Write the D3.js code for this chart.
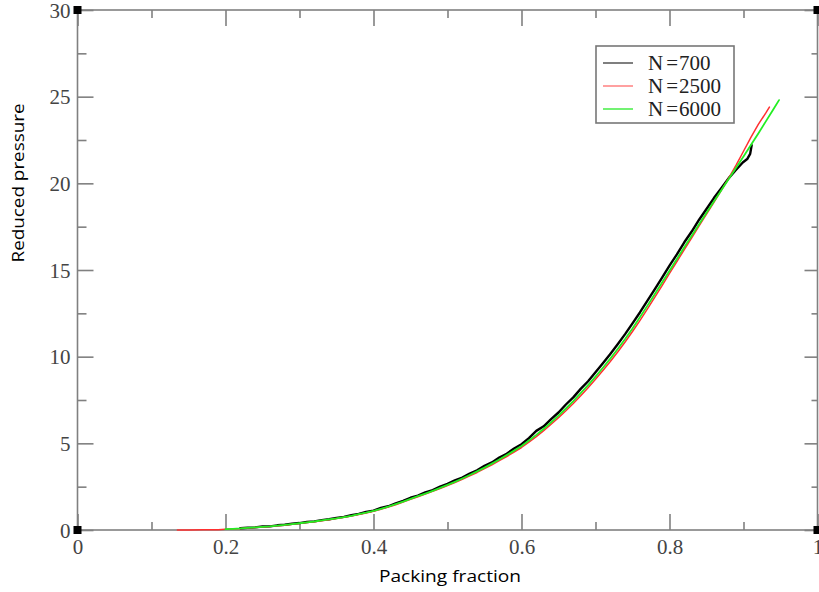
<!DOCTYPE html>
<html>
<head>
<meta charset="utf-8">
<script src="https://cdn.jsdelivr.net/npm/d3@7"></script>
<style>
  html, body { margin: 0; padding: 0; background: #fff; }
  svg { display: block; }
</style>
</head>
<body>
<svg id="chart" width="819" height="592"></svg>
<script>
// ---- data ----
const seriesNames = ["N = 700", "N = 2500", "N = 6000"];
const seriesLabelsNum = ["700", "2500", "6000"];

const phi700 = [0.22,0.23,0.24,0.25,0.26,0.27,0.28,0.29,0.30,0.31,0.32,0.33,0.34,0.35,0.36,0.37,0.38,0.39,0.40,0.41,0.42,0.43,0.44,0.45,0.46,0.47,0.48,0.49,0.50,0.51,0.52,0.53,0.54,0.55,0.56,0.57,0.58,0.59,0.60,0.61,0.62,0.63,0.64,0.65,0.66,0.67,0.68,0.69,0.70,0.71,0.72,0.73,0.74,0.75,0.76,0.77,0.78,0.79,0.80,0.81,0.82,0.83,0.84,0.85,0.86,0.87,0.88,0.89,0.899,0.905,0.909,0.911];
const p700 = [0.10,0.13,0.15,0.20,0.21,0.27,0.30,0.36,0.40,0.46,0.50,0.57,0.62,0.70,0.76,0.85,0.93,1.04,1.12,1.27,1.37,1.54,1.68,1.86,1.98,2.17,2.30,2.50,2.66,2.86,3.02,3.26,3.44,3.70,3.90,4.18,4.40,4.70,4.95,5.30,5.72,5.98,6.40,6.78,7.24,7.65,8.14,8.58,9.10,9.62,10.16,10.72,11.30,11.92,12.55,13.22,13.88,14.56,15.25,15.90,16.60,17.22,17.90,18.52,19.15,19.72,20.30,20.78,21.20,21.40,21.70,22.20];

const phi2500 = [0.135,0.15,0.17,0.19,0.20,0.21,0.22,0.23,0.24,0.25,0.26,0.27,0.28,0.29,0.30,0.31,0.32,0.33,0.34,0.35,0.36,0.37,0.38,0.39,0.40,0.41,0.42,0.43,0.44,0.45,0.46,0.47,0.48,0.49,0.50,0.51,0.52,0.53,0.54,0.55,0.56,0.57,0.58,0.59,0.60,0.61,0.62,0.63,0.64,0.65,0.66,0.67,0.68,0.69,0.70,0.71,0.72,0.73,0.74,0.75,0.76,0.77,0.78,0.79,0.80,0.81,0.82,0.83,0.84,0.85,0.86,0.87,0.88,0.89,0.90,0.91,0.92,0.93,0.935];
const p2500 = [0.00,0.00,0.01,0.02,0.04,0.06,0.08,0.11,0.14,0.17,0.20,0.24,0.28,0.33,0.37,0.43,0.48,0.54,0.59,0.66,0.73,0.80,0.89,0.98,1.08,1.20,1.33,1.46,1.61,1.77,1.92,2.07,2.23,2.39,2.56,2.74,2.92,3.12,3.32,3.54,3.76,4.00,4.24,4.50,4.76,5.07,5.39,5.73,6.10,6.48,6.88,7.30,7.74,8.21,8.70,9.20,9.72,10.27,10.85,11.45,12.08,12.74,13.42,14.10,14.80,15.49,16.18,16.86,17.54,18.22,18.90,19.60,20.30,21.05,21.85,22.65,23.40,24.05,24.40];

const phi6000 = [0.20,0.21,0.22,0.23,0.24,0.25,0.26,0.27,0.28,0.29,0.30,0.31,0.32,0.33,0.34,0.35,0.36,0.37,0.38,0.39,0.40,0.41,0.42,0.43,0.44,0.45,0.46,0.47,0.48,0.49,0.50,0.51,0.52,0.53,0.54,0.55,0.56,0.57,0.58,0.59,0.60,0.61,0.62,0.63,0.64,0.65,0.66,0.67,0.68,0.69,0.70,0.71,0.72,0.73,0.74,0.75,0.76,0.77,0.78,0.79,0.80,0.81,0.82,0.83,0.84,0.85,0.86,0.87,0.88,0.89,0.90,0.91,0.92,0.93,0.94,0.948];
const p6000 = [0.05,0.07,0.09,0.12,0.15,0.18,0.21,0.25,0.29,0.34,0.39,0.44,0.49,0.55,0.61,0.67,0.74,0.82,0.91,1.00,1.10,1.22,1.35,1.49,1.64,1.80,1.95,2.10,2.26,2.43,2.60,2.78,2.97,3.17,3.38,3.60,3.83,4.07,4.32,4.58,4.85,5.16,5.49,5.84,6.21,6.60,7.01,7.44,7.89,8.36,8.85,9.36,9.89,10.44,11.02,11.63,12.27,12.93,13.60,14.28,14.96,15.64,16.31,16.98,17.64,18.30,18.95,19.60,20.25,20.90,21.55,22.21,22.88,23.56,24.25,24.80];

const xMajorTicks = [0, 0.2, 0.4, 0.6, 0.8, 1];
const xMinorTicks = [0.1, 0.3, 0.5, 0.7, 0.9];
const yMajorTicks = [0, 5, 10, 15, 20, 25, 30];
const yMinorTicks = [2.5, 7.5, 12.5, 17.5, 22.5, 27.5];
const xTickLabels = ["0", "0.2", "0.4", "0.6", "0.8", "1"];
const yTickLabels = ["0", "5", "10", "15", "20", "25", "30"];
const xTitle = "Packing fraction";
const yTitle = "Reduced pressure";

// ---- drawing ----
const svg = d3.select("#chart");
const L = 77.5, R = 817.5, T = 10, B = 530;
const x = d3.scaleLinear().domain([0, 1]).range([L, R]);
const y = d3.scaleLinear().domain([0, 30]).range([B, T]);

const axisColor = "#808080";
const colors = ["#000000", "#ff3030", "#22ee22"];
const legendColors = ["#555555", "#ff8080", "#44ee44"];
const widths = [2.4, 1.5, 1.8];

// frame
svg.append("rect").attr("x", L).attr("y", T).attr("width", R - L).attr("height", B - T)
  .attr("fill", "none").attr("stroke", axisColor).attr("stroke-width", 1.6);

function styleAxis(g) {
  g.select(".domain").remove();
  g.selectAll(".tick line").attr("stroke", axisColor).attr("stroke-width", 1.6);
}

// bottom ticks (inward)
svg.append("g").attr("transform", `translate(0,${B})`)
  .call(d3.axisTop(x).tickValues(xMajorTicks).tickSize(16).tickFormat("")).call(styleAxis);
svg.append("g").attr("transform", `translate(0,${B})`)
  .call(d3.axisTop(x).tickValues(xMinorTicks).tickSize(8).tickFormat("")).call(styleAxis);
// top ticks (inward)
svg.append("g").attr("transform", `translate(0,${T})`)
  .call(d3.axisBottom(x).tickValues(xMajorTicks).tickSize(16).tickFormat("")).call(styleAxis);
svg.append("g").attr("transform", `translate(0,${T})`)
  .call(d3.axisBottom(x).tickValues(xMinorTicks).tickSize(8).tickFormat("")).call(styleAxis);
// left ticks (inward)
svg.append("g").attr("transform", `translate(${L},0)`)
  .call(d3.axisRight(y).tickValues(yMajorTicks).tickSize(16).tickFormat("")).call(styleAxis);
svg.append("g").attr("transform", `translate(${L},0)`)
  .call(d3.axisRight(y).tickValues(yMinorTicks).tickSize(9).tickFormat("")).call(styleAxis);
// right ticks (inward)
svg.append("g").attr("transform", `translate(${R},0)`)
  .call(d3.axisLeft(y).tickValues(yMajorTicks).tickSize(13).tickFormat("")).call(styleAxis);
svg.append("g").attr("transform", `translate(${R},0)`)
  .call(d3.axisLeft(y).tickValues(yMinorTicks).tickSize(6).tickFormat("")).call(styleAxis);

// tick labels
const xl = svg.append("g").attr("transform", `translate(0,${B})`)
  .call(d3.axisBottom(x).tickValues(xMajorTicks).tickSize(0).tickPadding(9)
    .tickFormat((d, i) => xTickLabels[i]));
xl.select(".domain").remove();
xl.selectAll("text").attr("font-family", "'Liberation Serif', 'DejaVu Serif', serif")
  .attr("font-size", 21).attr("fill", "#444").attr("dy", "0.72em");

const yl = svg.append("g").attr("transform", `translate(${L},0)`)
  .call(d3.axisLeft(y).tickValues(yMajorTicks).tickSize(0).tickPadding(7)
    .tickFormat((d, i) => yTickLabels[i]));
yl.select(".domain").remove();
yl.selectAll("text").attr("font-family", "'Liberation Serif', 'DejaVu Serif', serif")
  .attr("font-size", 21).attr("fill", "#444").attr("dy", "0.34em");

// axis titles
svg.append("text").attr("x", 450).attr("y", 582)
  .attr("text-anchor", "middle").attr("font-family", "'Open Sans', sans-serif")
  .attr("font-size", 17).attr("fill", "#000")
  .attr("textLength", 142).attr("lengthAdjust", "spacingAndGlyphs").text(xTitle);
svg.append("text").attr("transform", `translate(24,${183}) rotate(-90)`)
  .attr("text-anchor", "middle").attr("font-family", "'Open Sans', sans-serif")
  .attr("font-size", 17).attr("fill", "#000")
  .attr("textLength", 159).attr("lengthAdjust", "spacingAndGlyphs").text(yTitle);

// series
const series = [
  { phi: phi700, p: p700 },
  { phi: phi2500, p: p2500 },
  { phi: phi6000, p: p6000 }
];
const line = d3.line().x(d => x(d[0])).y(d => y(d[1]));
series.forEach((s, i) => {
  const pts = s.phi.map((v, j) => [v, s.p[j]]);
  svg.append("path").datum(pts).attr("d", line)
    .attr("fill", "none").attr("stroke", colors[i]).attr("stroke-width", widths[i])
    .attr("stroke-linejoin", "round").attr("stroke-linecap", "round");
});

// corner squares
[[L, T], [L, B], [R, B], [R, T]].forEach(c => {
  svg.append("rect").attr("x", c[0] - 4).attr("y", c[1] - 4).attr("width", 8).attr("height", 8)
    .attr("fill", "#000");
});

// legend
const lg = svg.append("g");
lg.append("rect").attr("x", 596).attr("y", 46).attr("width", 138).attr("height", 77)
  .attr("fill", "#fff").attr("stroke", "#777").attr("stroke-width", 1.6);
seriesNames.forEach((n, i) => {
  const yy = 63 + i * 23;
  lg.append("line").attr("x1", 603).attr("x2", 633).attr("y1", yy).attr("y2", yy)
    .attr("stroke", legendColors[i]).attr("stroke-width", 1.5);
  const t = lg.append("text").attr("x", 648).attr("y", yy + 6.5)
    .attr("font-family", "'Liberation Serif', 'DejaVu Serif', serif")
    .attr("font-size", 21).attr("fill", "#222");
  t.append("tspan").text("N");
  t.append("tspan").attr("dx", 3).text("=");
  t.append("tspan").attr("dx", 1).text(seriesLabelsNum[i]);
});
</script>
</body>
</html>
